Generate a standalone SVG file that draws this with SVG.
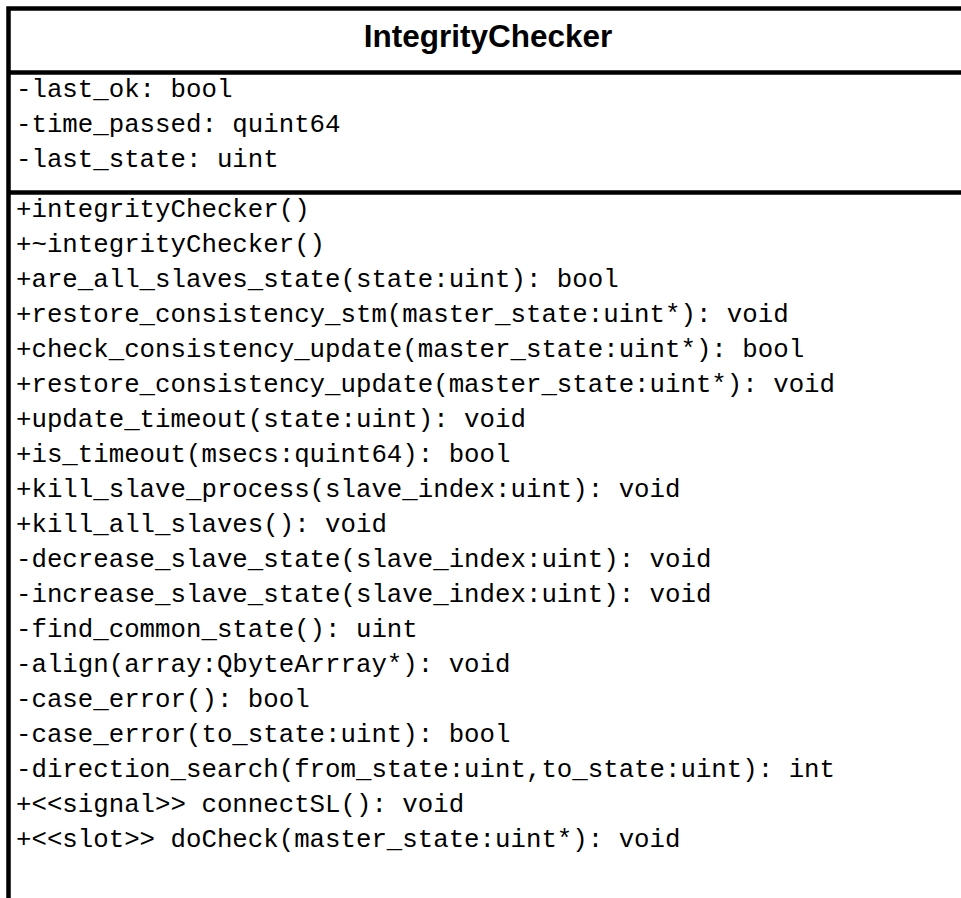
<svg xmlns="http://www.w3.org/2000/svg" width="961" height="898" viewBox="0 0 961 898">
  <style>
    .frame { fill: #ffffff; stroke: #000000; stroke-width: 4.5; }
    .rule { stroke: #000000; stroke-width: 4.5; }
    .title { font-family: "Liberation Sans", Arial, sans-serif; font-weight: bold; font-size: 31.5px; fill: #000000; text-anchor: middle; }
    .member { font-family: "Liberation Mono", "Courier New", monospace; font-size: 25.75px; fill: #000000; }
  </style>
  <rect width="961" height="898" fill="#ffffff"/>
  <g id="IntegrityChecker">
    <!-- class box runs past the right and bottom edges -->
    <rect class="frame" x="8.5" y="8.5" width="1000" height="1000"/>
    <line class="rule" x1="8.5" y1="72.5" x2="1008" y2="72.5"/>
    <line class="rule" x1="8.5" y1="192.5" x2="1008" y2="192.5"/>
    <text class="title" x="488" y="47">IntegrityChecker</text>
    <g class="attributes">
      <text class="member" x="16" y="97">-last_ok: bool</text>
      <text class="member" x="16" y="132">-time_passed: quint64</text>
      <text class="member" x="16" y="167">-last_state: uint</text>
    </g>
    <g class="operations">
      <text class="member" x="16" y="217">+integrityChecker()</text>
      <text class="member" x="16" y="252">+~integrityChecker()</text>
      <text class="member" x="16" y="287">+are_all_slaves_state(state:uint): bool</text>
      <text class="member" x="16" y="322">+restore_consistency_stm(master_state:uint*): void</text>
      <text class="member" x="16" y="357">+check_consistency_update(master_state:uint*): bool</text>
      <text class="member" x="16" y="392">+restore_consistency_update(master_state:uint*): void</text>
      <text class="member" x="16" y="427">+update_timeout(state:uint): void</text>
      <text class="member" x="16" y="462">+is_timeout(msecs:quint64): bool</text>
      <text class="member" x="16" y="497">+kill_slave_process(slave_index:uint): void</text>
      <text class="member" x="16" y="532">+kill_all_slaves(): void</text>
      <text class="member" x="16" y="567">-decrease_slave_state(slave_index:uint): void</text>
      <text class="member" x="16" y="602">-increase_slave_state(slave_index:uint): void</text>
      <text class="member" x="16" y="637">-find_common_state(): uint</text>
      <text class="member" x="16" y="672">-align(array:QbyteArrray*): void</text>
      <text class="member" x="16" y="707">-case_error(): bool</text>
      <text class="member" x="16" y="742">-case_error(to_state:uint): bool</text>
      <text class="member" x="16" y="777">-direction_search(from_state:uint,to_state:uint): int</text>
      <text class="member" x="16" y="812">+&lt;&lt;signal&gt;&gt; connectSL(): void</text>
      <text class="member" x="16" y="847">+&lt;&lt;slot&gt;&gt; doCheck(master_state:uint*): void</text>
    </g>
  </g>
  <g id="connectors"/>
</svg>
